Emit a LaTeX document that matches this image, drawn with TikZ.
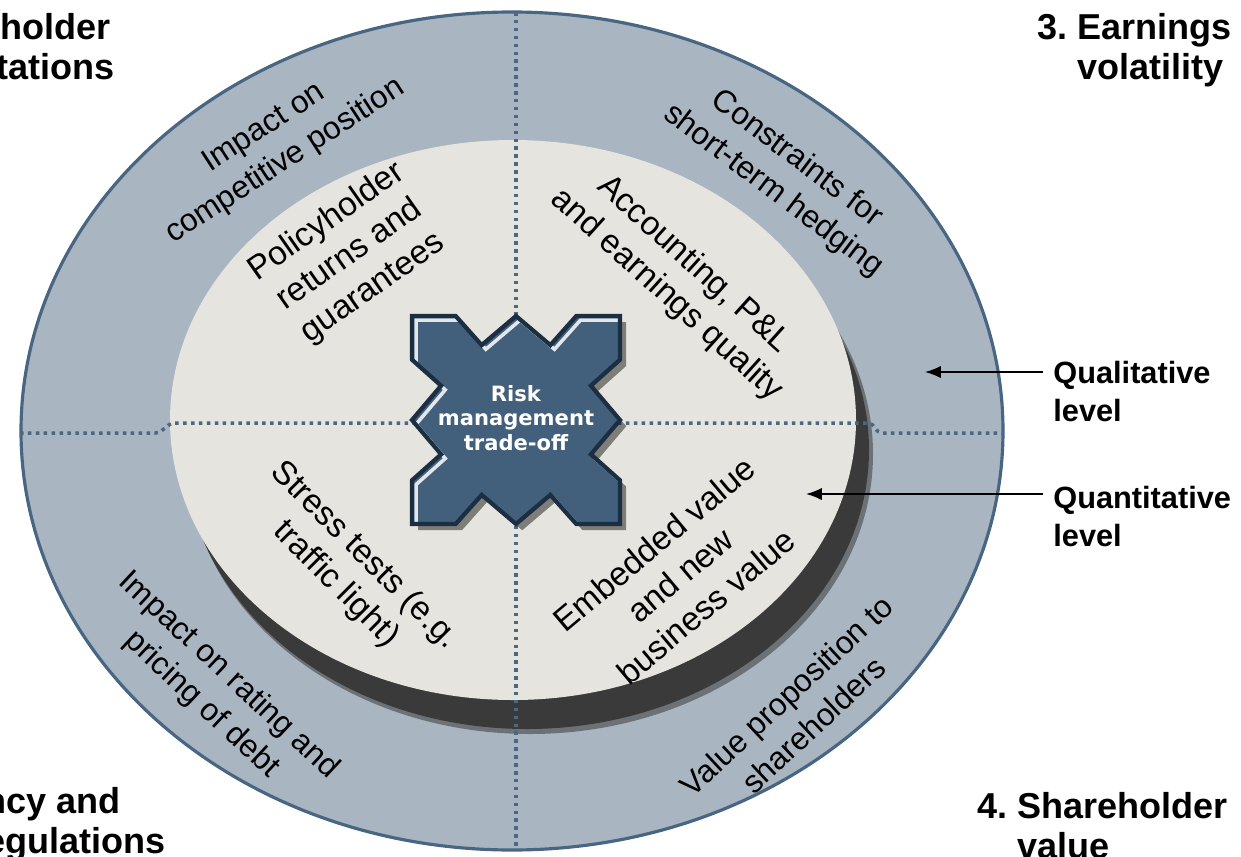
\documentclass[tikz,border=0pt]{standalone}
\usepackage{fontspec}
\setmainfont{Liberation Sans}
\newfontfamily\hubfont{DejaVu Sans}
\usetikzlibrary{arrows.meta}

\definecolor{ringfill}{RGB}{169,181,192}
\definecolor{ringline}{RGB}{72,102,130}
\definecolor{facefill}{RGB}{229,228,223}
\definecolor{faceshadow}{RGB}{58,58,58}
\definecolor{crossfill}{RGB}{66,96,124}
\definecolor{crossline}{RGB}{27,46,66}
\definecolor{dotline}{RGB}{72,104,132}

\tikzset{
  header/.style={font=\fontsize{20.5}{23.2}\selectfont\bfseries, inner sep=0pt, anchor=base west},
  ringtext/.style={font=\fontsize{18}{22.5}\selectfont, align=center, inner sep=0pt},
  facetext/.style={font=\fontsize{19}{23}\selectfont, align=center, inner sep=0pt},
  levellabel/.style={font=\fontsize{17.5}{21.5}\selectfont\bfseries, align=left, inner sep=0pt, anchor=north west},
  divider/.style={dotline, line width=2pt, dash pattern=on 2pt off 2.5pt},
  pointer/.style={-{Latex[length=9pt,width=7pt]}, line width=0.9pt, shorten <=0.2cm},
}

% numbered heading with hanging indent
\newcommand{\hdr}[3]{\begin{tabular}[t]{@{}l@{\hspace{0.278em}}l@{}}#1&#2\\&#3\end{tabular}}
% outline of the four-arrow cross
\newcommand{\crossoutline}{(-1,1) -- (-0.58,1) -- (-0.33,0.72) -- (0,1) -- (0.33,0.72) -- (0.58,1)
  -- (1,1) -- (1,0.58) -- (0.72,0.33) -- (1,0) -- (0.72,-0.33) -- (1,-0.58)
  -- (1,-1) -- (0.58,-1) -- (0.33,-0.72) -- (0,-1) -- (-0.33,-0.72) -- (-0.58,-1)
  -- (-1,-1) -- (-1,-0.58) -- (-0.72,-0.33) -- (-1,0) -- (-0.72,0.33) -- (-1,0.58) -- cycle}

\begin{document}
\begin{tikzpicture}[x=0.02cm, y=-0.02cm]
    \useasboundingbox (0,0) rectangle (1241,856);
    \clip (0,0) rectangle (1241,856);

    % Outer ring
    \draw[ringline, fill=ringfill, line width=1.8pt] (512,431) ellipse [x radius=491, y radius=419];

    % Inner disc with its shadow
    \fill[faceshadow!55!ringfill] (530,454) ellipse [x radius=343, y radius=280];
    \fill[faceshadow] (527,450) ellipse [x radius=342, y radius=279];
    \fill[facefill] (513,420) ellipse [x radius=343, y radius=280];

    % Dividers
    \draw[divider] (516,12) -- (516,850);
    \draw[divider] (20,433) -- (155,433) to[out=0,in=180] (175,423) -- (868,423)
        to[out=0,in=180] (882,433) -- (1003,433);

    % Cross
    \begin{scope}[shift={(516,420)}, scale=104]
        \fill[black, opacity=0.45, shift={(0.06,0.06)}] \crossoutline;
        \fill[crossfill] \crossoutline;
        \begin{scope}
            \clip \crossoutline;
            \draw[white!85!crossfill, line width=2pt, shift={(0.04,0.04)}] \crossoutline;
        \end{scope}
        \draw[crossline, line width=2.4pt, line join=miter] \crossoutline;
    \end{scope}
    \node[font=\hubfont\fontsize{12}{14}\selectfont\bfseries, text=white, align=center] (hub) at (516,418)
        {Risk\\management\\trade-off};

    % Qualitative level
    \foreach \name/\x/\y/\ang/\txt in {
        compet/275/145/33/{Impact on\\competitive position},
        hedge/785/175/-37/{Constraints for\\short-term hedging},
        rating/215/690/-43/{Impact on rating and\\pricing of debt},
        holders/800/710/43/{Value proposition to\\shareholders}}
    {
        \node[ringtext, rotate=\ang] (\name) at (\x,\y) {\txt};
    }

    % Quantitative level
    \foreach \name/\x/\y/\ang/\txt in {
        policy/350/255/35/{Policyholder\\returns and\\guarantees},
        account/680/280/-42/{Accounting, P\&L\\and earnings quality},
        stress/350/570/-45/{Stress tests (e.g.\\traffic light)},
        embed/680/575/40/{Embedded value\\and new\\business value}}
    {
        \node[facetext, rotate=\ang] (\name) at (\x,\y) {\txt};
    }

    % Headings
    \node[header] (policyh) at (-146,39) {\hdr{1.}{Policyholder}{expectations}};
    \node[header] (solv) at (-152,813) {\hdr{2.}{Solvency and}{\hspace*{2.3em}regulations}};
    \node[header] (earn) at (1037,39) {\hdr{3.}{Earnings}{volatility}};
    \node[header] (share) at (977,818) {\hdr{4.}{Shareholder}{value}};

    % Level labels
    \node[levellabel] (qual) at (1053,361) {Qualitative\\level};
    \node[levellabel] (quant) at (1053,486) {Quantitative\\level};
    \coordinate (qualtip) at (925,372);
    \coordinate (quanttip) at (806,494);
    \draw[pointer] (qual.west |- qualtip) -- (qualtip);
    \draw[pointer] (quant.west |- quanttip) -- (quanttip);
\end{tikzpicture}
\end{document}
